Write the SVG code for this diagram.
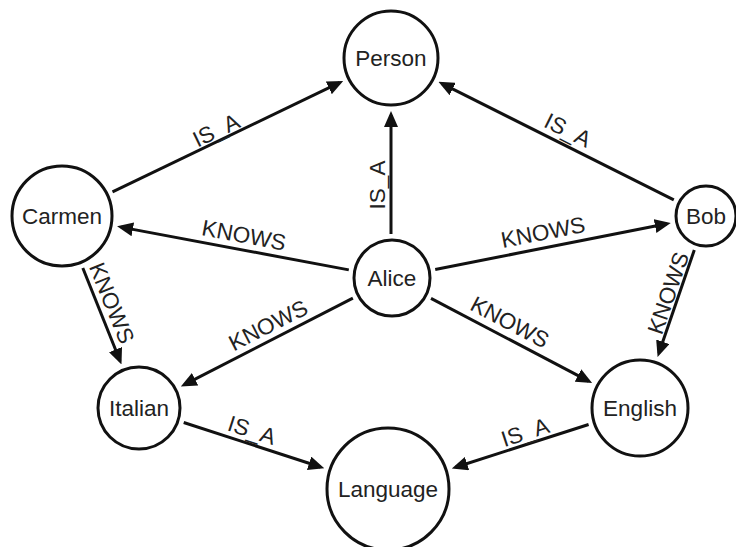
<svg xmlns="http://www.w3.org/2000/svg" width="736" height="547" viewBox="0 0 736 547">
  <style>
    .node circle { fill: #ffffff; stroke: #111111; stroke-width: 3; }
    .node text, .label { font-family: "Liberation Sans", Arial, sans-serif; font-size: 22.5px; fill: #222222; text-anchor: middle; }
    .edge { stroke: #111111; stroke-width: 3; fill: none; marker-end: url(#arrow); }
  </style>
  <defs>
    <marker id="arrow" viewBox="0 0 16 14" refX="12" refY="7" markerWidth="16" markerHeight="14" markerUnits="userSpaceOnUse" orient="auto">
      <path d="M0,0 L16,7 L0,14 Z" fill="#111111"/>
    </marker>
  </defs>
  <rect width="736" height="547" fill="#ffffff"/>

  <!-- relationships -->
  <g id="connectors">
    <line class="edge" x1="112.5" y1="191.8" x2="339.6" y2="82.7"/>
    <line class="edge" x1="673.8" y1="199.9" x2="442.0" y2="83.6"/>
    <line class="edge" x1="391" y1="234" x2="391" y2="115"/>
    <line class="edge" x1="348.8" y1="269.9" x2="121.0" y2="227.1"/>
    <line class="edge" x1="435.2" y1="269.5" x2="666.8" y2="223.7"/>
    <line class="edge" x1="352.9" y1="298.1" x2="184.4" y2="384.7"/>
    <line class="edge" x1="431.0" y1="298.4" x2="588.6" y2="381.1"/>
    <line class="edge" x1="82.8" y1="268.0" x2="120.0" y2="360.7"/>
    <line class="edge" x1="694.3" y1="250.0" x2="658.9" y2="353.1"/>
    <line class="edge" x1="183.7" y1="422.5" x2="320.5" y2="467.0"/>
    <line class="edge" x1="588.6" y1="424.5" x2="455.6" y2="467.3"/>

    <text class="label" transform="translate(216,130) rotate(-25.6)" y="8">IS_A</text>
    <text class="label" transform="translate(568,130) rotate(26.6)" y="8">IS_A</text>
    <text class="label" transform="translate(377,185) rotate(-90)" y="8">IS_A</text>
    <text class="label" transform="translate(244,235) rotate(10.6)" y="8">KNOWS</text>
    <text class="label" transform="translate(543,232) rotate(-11)" y="8">KNOWS</text>
    <text class="label" transform="translate(268,325) rotate(-27)" y="8">KNOWS</text>
    <text class="label" transform="translate(510,322) rotate(27.7)" y="8">KNOWS</text>
    <text class="label" transform="translate(112,303) rotate(68)" y="8">KNOWS</text>
    <text class="label" transform="translate(668,293) rotate(-71)" y="8">KNOWS</text>
    <text class="label" transform="translate(252,430) rotate(18)" y="8">IS_A</text>
    <text class="label" transform="translate(525,432) rotate(-18)" y="8">IS_A</text>
  </g>

  <!-- entities -->
  <g id="person" class="node">
    <circle cx="391" cy="58" r="47"/>
    <text x="391" y="66">Person</text>
  </g>
  <g id="carmen" class="node">
    <circle cx="62" cy="216" r="50"/>
    <text x="62" y="224">Carmen</text>
  </g>
  <g id="bob" class="node">
    <circle cx="706" cy="216" r="30"/>
    <text x="706" y="224">Bob</text>
  </g>
  <g id="alice" class="node">
    <circle cx="392" cy="278" r="38"/>
    <text x="392" y="286">Alice</text>
  </g>
  <g id="italian" class="node">
    <circle cx="139" cy="408" r="41"/>
    <text x="139" y="416">Italian</text>
  </g>
  <g id="english" class="node">
    <circle cx="640" cy="408" r="48"/>
    <text x="640" y="416">English</text>
  </g>
  <g id="language" class="node">
    <circle cx="388" cy="489" r="61"/>
    <text x="388" y="497">Language</text>
  </g>
</svg>
